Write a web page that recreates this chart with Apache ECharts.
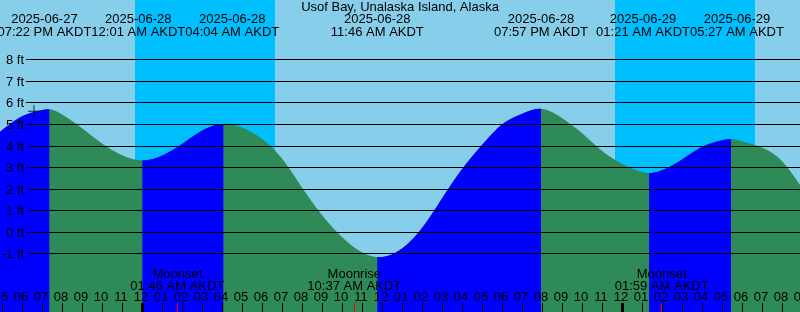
<!DOCTYPE html>
<html><head><meta charset="utf-8">
<script src="https://cdn.jsdelivr.net/npm/echarts@6/dist/echarts.min.js"></script>
<style>html,body{margin:0;padding:0;background:#87CEEB}#c{width:800px;height:312px}</style>
</head><body><div id="c"></div>
<script>
// ---------------- data ----------------
const stationName = 'Usof Bay, Unalaska Island, Alaska';
const viewStart = '2025-06-27 16:54';
const viewEnd = '2025-06-29 08:54';
const depthMin = -3.70;
const depthMax = 10.78;

// tide heights (ft)
const tideTimes = ['2025-06-27 16:00','2025-06-27 17:00','2025-06-27 18:00','2025-06-27 19:00','2025-06-27 20:00','2025-06-27 21:00','2025-06-27 22:00','2025-06-27 23:00',
  '2025-06-28 01:00','2025-06-28 02:00','2025-06-28 03:00','2025-06-28 05:00','2025-06-28 06:00','2025-06-28 07:00','2025-06-28 08:00','2025-06-28 09:00','2025-06-28 10:00','2025-06-28 11:00',
  '2025-06-28 13:00','2025-06-28 14:00','2025-06-28 15:00','2025-06-28 16:00','2025-06-28 17:00','2025-06-28 18:00','2025-06-28 19:00','2025-06-28 21:00','2025-06-28 22:00','2025-06-28 23:00',
  '2025-06-29 00:00','2025-06-29 01:00','2025-06-29 02:00','2025-06-29 03:00','2025-06-29 04:00','2025-06-29 05:00','2025-06-29 06:00','2025-06-29 07:00','2025-06-29 08:00','2025-06-29 09:00'];
const tideHeights = [4.0, 4.74, 5.38, 5.67, 5.47, 4.83, 4.12, 3.58,
  3.56, 4.1, 4.72, 4.86, 4.33, 3.42, 2.08, 0.8, -0.22, -0.93,
  -0.75, 0.2, 1.57, 2.93, 4.05, 5.0, 5.5, 5.3, 4.6, 3.78,
  3.18, 2.8, 2.88, 3.38, 3.96, 4.27, 4.22, 3.93, 3.3, 2.05];

// high / low tides
const extremeTimes = ['2025-06-27 19:22','2025-06-28 00:01','2025-06-28 04:04','2025-06-28 11:46','2025-06-28 19:57','2025-06-29 01:21','2025-06-29 05:27'];
const extremeHeights = [5.71, 3.34, 5.03, -1.15, 5.73, 2.75, 4.33];
const extremeDates = ['2025-06-27','2025-06-28','2025-06-28','2025-06-28','2025-06-28','2025-06-29','2025-06-29'];
const extremeClock = ['07:22 PM AKDT','12:01 AM AKDT','04:04 AM AKDT','11:46 AM AKDT','07:57 PM AKDT','01:21 AM AKDT','05:27 AM AKDT'];

// moon events
const moonTimes = ['2025-06-28 01:46','2025-06-28 10:37','2025-06-29 01:59'];
const moonEvents = ['Moonset','Moonrise','Moonset'];
const moonClock = ['01:46 AM AKDT','10:37 AM AKDT','01:59 AM AKDT'];

// night (sunset -> sunrise)
const nightStarts = ['2025-06-27 23:38','2025-06-28 23:38'];
const nightEnds = ['2025-06-28 06:38','2025-06-29 06:38'];

// current time marker
const nowTimes = ['2025-06-27 18:36'];
const nowHeights = [5.62];

// axis ticks
const depthTicks = [-1, 0, 1, 2, 3, 4, 5, 6, 7, 8];
const depthLabels = ['-1 ft','0 ft','1 ft','2 ft','3 ft','4 ft','5 ft','6 ft','7 ft','8 ft'];
const firstHour = '2025-06-27 17:00';
const hourLabels = ['05','06','07','08','09','10','11',
  '12','01','02','03','04','05','06','07','08','09','10','11','12','01','02','03','04','05','06','07','08','09','10','11',
  '12','01','02','03','04','05','06','07','08','09'];

// ---------------- chart ----------------
const FONT = "13px 'Liberation Sans', Arial, sans-serif";
const RISING = '#0000FF', FALLING = '#2E8B57';
const t = s => new Date(s.replace(' ', 'T')).getTime();
const HOUR = 3600000;
const hourTimes = hourLabels.map((_, i) => t(firstHour) + i * HOUR);

const tideData = tideTimes.map((s, i) => [t(s), tideHeights[i]])
  .concat(extremeTimes.map((s, i) => [t(s), extremeHeights[i]]))
  .sort((a, b) => a[0] - b[0]);

// smooth curve through the read points (natural cubic spline, time in hours)
function naturalSpline(xs, ys) {
  const n = xs.length, h = [], M = new Array(n).fill(0);
  for (let i = 0; i < n - 1; i++) h.push(xs[i + 1] - xs[i]);
  const a = [], b = [], c = [], d = [];
  for (let i = 1; i < n - 1; i++) {
    a.push(h[i - 1]); b.push(2 * (h[i - 1] + h[i])); c.push(h[i]);
    d.push(6 * ((ys[i + 1] - ys[i]) / h[i] - (ys[i] - ys[i - 1]) / h[i - 1]));
  }
  const m = b.length;
  for (let i = 1; i < m; i++) { const w = a[i] / b[i - 1]; b[i] -= w * c[i - 1]; d[i] -= w * d[i - 1]; }
  const sol = new Array(m);
  sol[m - 1] = d[m - 1] / b[m - 1];
  for (let i = m - 2; i >= 0; i--) sol[i] = (d[i] - c[i] * sol[i + 1]) / b[i];
  for (let i = 0; i < m; i++) M[i + 1] = sol[i];
  return function (x) {
    let i = 0; while (i < n - 2 && x > xs[i + 1]) i++;
    const hh = xs[i + 1] - xs[i], A = (xs[i + 1] - x) / hh, B = (x - xs[i]) / hh;
    return A * ys[i] + B * ys[i + 1] + ((A * A * A - A) * M[i] + (B * B * B - B) * M[i + 1]) * hh * hh / 6;
  };
}
const spline = naturalSpline(tideData.map(p => p[0] / HOUR), tideData.map(p => p[1]));
const tideAt = ms => spline(ms / HOUR);

// rising segments between extremes
const ext = extremeTimes.map(t);
const bounds = [t(viewStart)].concat(ext, [t(viewEnd)]);
const risingSeg = [];
for (let i = 0; i < bounds.length - 1; i++) {
  const a = Math.max(bounds[i], t(viewStart)), b = Math.min(bounds[i + 1], t(viewEnd));
  const ha = tideAt(bounds[i] + 1), hb = tideAt(bounds[i + 1] - 1);
  const rising = i === 0 ? extremeHeights[0] > extremeHeights[1]
    : (i === bounds.length - 2 ? extremeHeights[ext.length - 1] < extremeHeights[ext.length - 2]
      : extremeHeights[i] > extremeHeights[i - 1]);
  if (rising) risingSeg.push([a, b]);
}

const chart = echarts.init(document.getElementById('c'), null, { renderer: 'canvas' });
chart.setOption({
  animation: false,
  backgroundColor: '#87CEEB',
  grid: { left: 0, right: 0, top: 0, bottom: 0 },
  xAxis: { type: 'time', min: t(viewStart), max: t(viewEnd), show: false },
  yAxis: { type: 'value', min: depthMin, max: depthMax, show: false, splitLine: { show: false } },
  series: [
    { // night bands
      type: 'custom', z: 1, silent: true,
      data: nightStarts.map((s, i) => [t(s), t(nightEnds[i])]),
      renderItem: (params, api) => {
        const x1 = api.coord([api.value(0), 0])[0];
        const x2 = api.coord([api.value(1), 0])[0];
        return { type: 'rect', shape: { x: Math.round(x1), y: 0, width: Math.round(x2) - Math.round(x1), height: api.getHeight() }, style: { fill: '#00BFFF' } };
      }
    },
    { // tide curve, filled; blue while rising, green while falling
      type: 'custom', z: 2, silent: true, data: tideData,
      renderItem: (params, api) => {
        if (params.dataIndex !== 0) return null;
        const step = 60000;
        const bottom = api.coord([t(viewStart), depthMin])[1];
        const area = (a, b) => {
          const pts = [];
          for (let tt = a; tt < b; tt += step) pts.push(api.coord([tt, tideAt(tt)]));
          pts.push(api.coord([b, tideAt(b)]));
          pts.push([pts[pts.length - 1][0], bottom]);
          pts.push([pts[0][0], bottom]);
          return pts;
        };
        const children = [{ type: 'polygon', shape: { points: area(t(viewStart), t(viewEnd)) }, style: { fill: FALLING } }];
        risingSeg.forEach(s => children.push({ type: 'polygon', shape: { points: area(s[0], s[1]) }, style: { fill: RISING } }));
        return { type: 'group', children: children };
      }
    },
    { // depth grid lines + labels
      type: 'custom', z: 3, silent: true,
      data: depthTicks.map(v => [t(viewStart), v]),
      renderItem: (params, api) => {
        const y = Math.round(api.coord([api.value(0), api.value(1)])[1] - 0.5) + 0.5;
        return { type: 'group', children: [
          { type: 'line', shape: { x1: 26, y1: y, x2: api.getWidth(), y2: y }, style: { stroke: '#000', lineWidth: 1 } },
          { type: 'text', style: { text: depthLabels[params.dataIndex], x: 24, y: y + 1, align: 'right', verticalAlign: 'middle', fill: '#000', font: FONT } }
        ] };
      }
    },
    { // hour ticks
      type: 'custom', z: 4, silent: true,
      data: hourTimes.map(v => [v, 0]),
      renderItem: (params, api) => {
        const x = api.coord([api.value(0), 0])[0];
        const midnight = new Date(api.value(0)).getHours() === 0;
        const w = midnight ? 3 : 1;
        const h = api.getHeight();
        return { type: 'group', children: [
          { type: 'rect', shape: { x: Math.round(x - w / 2), y: h - 9, width: w, height: 9 }, style: { fill: '#000' } },
          { type: 'text', style: { text: hourLabels[params.dataIndex], x: x - 1, y: h - 15, align: 'center', verticalAlign: 'middle', fill: '#000', font: FONT } }
        ] };
      }
    },
    { // moon events
      type: 'custom', z: 4, silent: true,
      data: moonTimes.map(s => [t(s), 0]),
      renderItem: (params, api) => {
        const x = api.coord([api.value(0), 0])[0];
        const h = api.getHeight();
        return { type: 'group', children: [
          { type: 'rect', shape: { x: Math.round(x - 0.5), y: h - 9, width: 1, height: 9 }, style: { fill: '#FF0000' } },
          { type: 'text', style: { text: moonEvents[params.dataIndex], x: x, y: h - 38, align: 'center', verticalAlign: 'middle', fill: '#000', font: FONT } },
          { type: 'text', style: { text: moonClock[params.dataIndex], x: x, y: h - 26, align: 'center', verticalAlign: 'middle', fill: '#000', font: FONT } }
        ] };
      }
    },
    { // now marker
      type: 'scatter', z: 5, silent: true,
      data: nowTimes.map((s, i) => [t(s), nowHeights[i]]),
      symbol: 'path://M0,5.5H12V6.5H0Z M5.5,0H6.5V12H5.5Z', symbolSize: 12,
      itemStyle: { color: '#000' }
    }
  ]
});

// event labels at the top, pushed apart so they do not overlap
const ctx = document.createElement('canvas').getContext('2d');
ctx.font = FONT;
const centers = ext.map(v => chart.convertToPixel({ xAxisIndex: 0 }, v));
const widths = extremeClock.map((s, i) => Math.max(ctx.measureText(s).width, ctx.measureText(extremeDates[i]).width));
const pos = centers.slice();
for (let it = 0; it < 100; it++) {
  for (let i = 0; i < pos.length - 1; i++) {
    const need = (widths[i] + widths[i + 1]) / 2;
    const gap = pos[i + 1] - pos[i];
    if (gap < need) { const d = (need - gap) / 2; pos[i] -= d; pos[i + 1] += d; }
  }
}
const graphics = [{ type: 'text', z: 10, silent: true, style: { text: stationName, x: 400, y: 7, align: 'center', verticalAlign: 'middle', fill: '#000', font: FONT } }];
pos.forEach((x, i) => {
  graphics.push({ type: 'text', z: 10, silent: true, style: { text: extremeDates[i], x: x, y: 19, align: 'center', verticalAlign: 'middle', fill: '#000', font: FONT } });
  graphics.push({ type: 'text', z: 10, silent: true, style: { text: extremeClock[i], x: x, y: 32, align: 'center', verticalAlign: 'middle', fill: '#000', font: FONT } });
});
chart.setOption({ graphic: graphics });
</script>
</body></html>
